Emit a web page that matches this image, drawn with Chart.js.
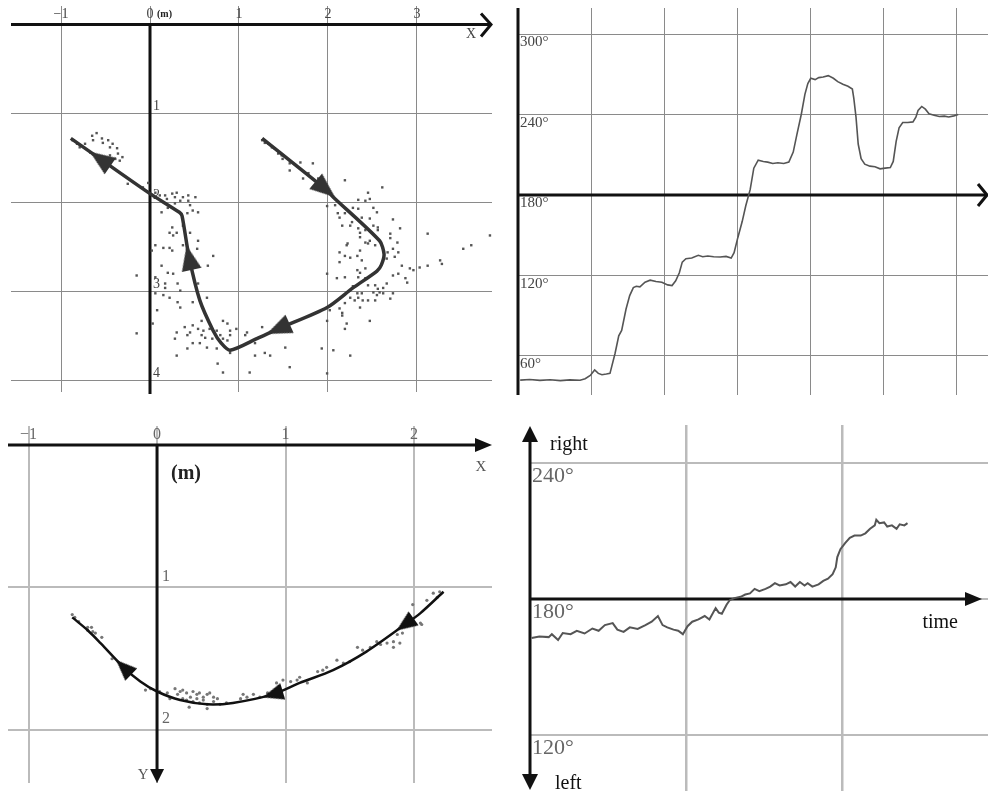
<!DOCTYPE html>
<html>
<head>
<meta charset="utf-8">
<script src="https://cdn.jsdelivr.net/npm/chart.js@4.4.0/dist/chart.umd.min.js"></script>
<style>
  body { margin: 0; background: #fff; width: 988px; height: 791px; position: relative; overflow: hidden; }
  canvas { position: absolute; }
</style>
</head>
<body>
<canvas id="pathA" width="500" height="400" style="left:0px;top:0px"></canvas>
<canvas id="headB" width="483" height="400" style="left:505px;top:0px"></canvas>
<canvas id="pathC" width="500" height="381" style="left:0px;top:410px"></canvas>
<canvas id="headD" width="483" height="381" style="left:505px;top:410px"></canvas>
<script>
// ---- top-left: walked path (m) ----
const xGridA = [-1, 0, 1, 2, 3];
const xLabelsA = ["\u22121", "0", "1", "2", "3"];
const yGridA = [1, 2, 3, 4];
const yLabelsA = ["1", "2", "3", "4"];
const pathA = [
  [1.26, 1.28], [1.97, 1.85], [2.06, 1.94], [2.58, 2.43], [2.63, 2.58], [2.60, 2.70],
  [2.55, 2.77], [2.28, 2.96], [1.99, 3.18], [1.44, 3.42], [1.20, 3.53], [0.90, 3.66],
  [0.80, 3.58], [0.71, 3.44], [0.56, 3.10], [0.44, 2.62], [0.36, 2.15], [0.33, 2.11],
  [0, 1.90], [-0.56, 1.51], [-0.89, 1.28],
];
const arrowIdxA = [1, 9, 15, 19];
const dotsA = [
  [-0.87,1.30],[-0.82,1.34],[-0.73,1.34],[-0.65,1.25],[-0.64,1.30],[-0.60,1.22],[-0.54,1.28],[-0.53,1.33],
  [-0.47,1.30],[-0.45,1.38],[-0.42,1.34],[-0.37,1.39],[-0.36,1.45],[-0.45,1.47],[-0.39,1.51],[-0.34,1.53],
  [-0.31,1.49],[-0.67,1.44],[-0.79,1.38],[-0.25,1.79],[-0.08,1.83],[-0.02,1.78],[0.06,1.89],[0.11,1.92],
  [0.17,1.92],[0.19,1.96],[0.25,1.90],[0.28,1.94],[0.30,1.89],[0.34,1.98],[0.37,1.94],[0.43,1.92],
  [0.43,1.98],[0.45,2.03],[0.51,1.94],[0.48,2.09],[0.54,2.11],[0.42,2.12],[0.13,2.11],[0.20,2.06],
  [0.28,2.01],[0.25,2.28],[0.30,2.34],[0.22,2.34],[0.26,2.37],[0.37,2.26],[0.45,2.34],[0.54,2.43],
  [0.53,2.52],[0.06,2.48],[0.15,2.51],[0.22,2.51],[0.25,2.54],[0.37,2.48],[0.02,2.54],[0.71,2.60],
  [0.65,2.71],[0.13,2.71],[0.20,2.79],[0.26,2.80],[-0.15,2.82],[0.06,2.84],[0.17,2.91],[0.17,2.96],
  [0.31,2.91],[0.54,2.91],[0.34,2.99],[0.06,3.02],[0.15,3.04],[0.22,3.07],[0.31,3.12],[0.64,3.07],
  [0.48,3.12],[0.34,3.18],[0.08,3.21],[0.03,3.36],[0.58,3.33],[0.82,3.33],[0.87,3.36],[0.39,3.40],
  [0.48,3.38],[0.54,3.42],[0.60,3.44],[0.67,3.42],[0.75,3.44],[0.90,3.44],[0.97,3.42],[0.30,3.46],
  [0.42,3.49],[0.45,3.46],[0.58,3.49],[0.62,3.52],[0.70,3.53],[0.79,3.49],[0.82,3.53],[0.87,3.55],
  [0.90,3.49],[1.09,3.46],[1.07,3.49],[0.28,3.53],[0.48,3.58],[0.56,3.58],[0.64,3.63],[0.42,3.64],
  [-0.15,3.47],[0.90,3.69],[0.75,3.64],[1.18,3.58],[0.30,3.72],[1.18,3.72],[1.29,3.69],[1.35,3.72],
  [1.52,3.63],[1.26,3.40],[0.76,3.81],[0.82,3.91],[1.12,3.91],[1.57,3.85],[1.99,3.92],[1.93,3.64],
  [2.06,3.66],[2.25,3.72],[1.26,1.30],[1.29,1.33],[1.33,1.34],[1.37,1.38],[1.40,1.39],[1.44,1.45],
  [1.48,1.47],[1.49,1.51],[1.57,1.56],[1.57,1.64],[1.69,1.55],[1.72,1.73],[1.83,1.56],[1.78,1.67],
  [1.89,1.73],[2.19,1.75],[2.61,1.83],[2.45,1.89],[2.47,1.96],[2.42,1.98],[2.34,1.97],[2.28,2.06],
  [2.34,2.07],[2.51,2.06],[2.55,2.11],[2.08,2.03],[1.99,2.04],[2.11,2.12],[2.13,2.17],[2.19,2.12],
  [2.27,2.22],[2.38,2.17],[2.47,2.18],[2.51,2.26],[2.56,2.28],[2.56,2.31],[2.73,2.19],[2.81,2.29],
  [2.16,2.26],[2.25,2.26],[2.34,2.29],[2.36,2.34],[2.42,2.31],[2.36,2.39],[2.42,2.45],[2.47,2.43],
  [2.45,2.46],[2.53,2.48],[2.70,2.35],[2.70,2.40],[2.78,2.45],[2.73,2.52],[2.79,2.56],[2.75,2.61],
  [2.67,2.56],[2.22,2.46],[2.21,2.48],[2.13,2.56],[2.19,2.60],[2.25,2.62],[2.33,2.60],[2.36,2.54],
  [2.13,2.67],[2.38,2.65],[2.42,2.74],[2.33,2.76],[2.36,2.79],[2.34,2.84],[2.66,2.63],[2.83,2.71],
  [2.92,2.74],[2.96,2.76],[3.03,2.73],[2.87,2.85],[2.89,2.90],[2.73,2.82],[2.79,2.80],[3.12,2.71],
  [3.12,2.35],[3.26,2.65],[3.28,2.69],[3.52,2.52],[3.61,2.48],[3.82,2.37],[1.99,2.80],[2.10,2.85],
  [2.19,2.84],[2.42,2.85],[2.45,2.93],[2.53,2.93],[2.56,2.97],[2.62,2.96],[2.66,2.91],[2.58,3.01],
  [2.51,3.01],[2.55,3.04],[2.62,3.02],[2.73,3.02],[2.28,2.94],[2.33,3.02],[2.34,3.07],[2.38,3.02],
  [2.25,3.07],[2.30,3.10],[2.39,3.10],[2.53,3.10],[2.45,3.10],[2.70,3.08],[2.36,3.18],[2.19,3.13],
  [2.02,3.21],[2.13,3.19],[2.16,3.24],[2.16,3.27],[1.99,3.33],[2.21,3.36],[2.47,3.33],[2.19,3.42],
];

// ---- top-right: heading angle over time ----
const tGridB = [1, 2, 3, 4, 5, 6];
const vGridB = [60, 120, 180, 240, 300];
const vLabelsB = ["60\u00b0", "120\u00b0", "180\u00b0", "240\u00b0", "300\u00b0"];
const timeB = [
  0.03, 0.16, 0.30, 0.44, 0.58, 0.71, 0.85, 0.92, 0.99, 1.05, 1.10, 1.15, 1.21, 1.26, 1.33, 1.38,
  1.42, 1.48, 1.53, 1.58, 1.62, 1.67, 1.74, 1.81, 1.89, 1.97, 2.05, 2.11, 2.16, 2.21, 2.25, 2.30,
  2.38, 2.47, 2.53, 2.60, 2.68, 2.77, 2.85, 2.92, 2.96, 3.01, 3.07, 3.12, 3.18, 3.23, 3.29, 3.36,
  3.42, 3.49, 3.56, 3.64, 3.71, 3.77, 3.82, 3.88, 3.93, 3.97, 4.01, 4.07, 4.12, 4.18, 4.25, 4.32,
  4.38, 4.45, 4.52, 4.58, 4.60, 4.63, 4.66, 4.70, 4.75, 4.82, 4.89, 4.96, 5.03, 5.10, 5.14, 5.18,
  5.22, 5.27, 5.34, 5.41, 5.45, 5.48, 5.53, 5.58, 5.63, 5.70, 5.77, 5.84, 5.90, 5.97, 6.03,
];
const angleB = [
  42, 42.5, 41.8, 42.3, 41.6, 42.2, 41.9, 43, 45.5, 49.6, 47, 46, 46.5, 47, 62, 75,
  79, 95, 105, 111, 112, 111.5, 115, 116.5, 115.5, 115, 113, 112.5, 116, 122, 130, 132.5,
  133, 135, 134, 134.5, 134, 133.8, 134.2, 133, 137, 148, 160, 172, 184, 200, 206, 205,
  204.5, 203.5, 204, 203.5, 204.5, 212, 225, 240, 255, 263, 267, 266, 267.5, 268, 269, 267,
  264.5, 262.5, 261, 259, 252, 238, 218, 207, 203, 201.5, 201, 199.5, 200, 200.5, 205, 220,
  230, 234, 234, 234.5, 238, 243, 246, 244, 240.5, 239.5, 238.5, 238.8, 238.2, 239, 240,
];

// ---- bottom-left: walked path (m) ----
const xGridC = [-1, 0, 1, 2];
const xLabelsC = ["\u22121", "0", "1", "2"];
const yGridC = [1, 2];
const yLabelsC = ["1", "2"];
const pathC = [
  [2.23, 1.03], [2.05, 1.18], [1.93, 1.26], [1.63, 1.45], [1.37, 1.58], [1.11, 1.67],
  [0.90, 1.75], [0.59, 1.81], [0.39, 1.82], [0.18, 1.79], [0, 1.73], [-0.13, 1.66],
  [-0.26, 1.56], [-0.44, 1.39], [-0.54, 1.30], [-0.66, 1.21],
];
const arrowIdxC = [2, 6, 12];
const dotsC = [
  [-0.66,1.19],[-0.64,1.21],[-0.61,1.24],[-0.54,1.28],[-0.51,1.28],[-0.50,1.31],[-0.43,1.35],[-0.48,1.32],
  [-0.54,1.30],[-0.09,1.72],[-0.05,1.71],[0.02,1.73],[0.08,1.74],[0.14,1.71],[0.16,1.75],[0.18,1.73],
  [0.20,1.72],[0.23,1.74],[0.26,1.77],[0.28,1.73],[0.31,1.75],[0.33,1.74],[0.36,1.77],[0.39,1.75],
  [0.41,1.74],[0.44,1.77],[0.47,1.78],[0.23,1.79],[0.28,1.80],[0.33,1.81],[0.39,1.82],[0.44,1.80],
  [0.36,1.79],[0.31,1.78],[0.20,1.78],[0.10,1.78],[0.49,1.82],[0.54,1.81],[0.65,1.78],[0.67,1.75],
  [0.70,1.77],[0.75,1.75],[0.80,1.77],[0.86,1.74],[0.93,1.67],[0.98,1.65],[1.04,1.66],[1.09,1.65],
  [1.17,1.67],[1.11,1.63],[1.25,1.59],[1.29,1.58],[1.32,1.56],[1.40,1.51],[1.45,1.53],[1.50,1.52],
  [1.56,1.42],[1.60,1.44],[1.66,1.42],[1.71,1.38],[1.74,1.40],[1.79,1.39],[1.84,1.38],[1.84,1.42],
  [1.89,1.39],[1.87,1.33],[1.91,1.32],[1.99,1.12],[2.05,1.25],[2.06,1.26],[1.99,1.23],[2.15,1.04],
  [2.20,1.03],[2.18,1.07],[2.10,1.09],[0.39,1.85],[0.25,1.84],[-0.23,1.60],[-0.35,1.50],
];

// ---- bottom-right: heading angle over time ----
const tGridD = [1, 2];
const vGridD = [120, 180, 240];
const vLabelsD = ["120\u00b0", "180\u00b0", "240\u00b0"];
const timeD = [
  0.01, 0.06, 0.12, 0.14, 0.18, 0.21, 0.26, 0.30, 0.35, 0.40, 0.44, 0.48, 0.53, 0.56, 0.60, 0.64,
  0.69, 0.74, 0.78, 0.82, 0.85, 0.88, 0.92, 0.95, 0.98, 1.01, 1.04, 1.08, 1.12, 1.15, 1.19, 1.21,
  1.23, 1.26, 1.28, 1.31, 1.35, 1.38, 1.41, 1.44, 1.47, 1.51, 1.54, 1.57, 1.60, 1.64, 1.67, 1.70,
  1.73, 1.76, 1.78, 1.81, 1.85, 1.88, 1.91, 1.94, 1.96, 1.97, 1.99, 2.02, 2.05, 2.08, 2.12, 2.15,
  2.18, 2.21, 2.22, 2.24, 2.27, 2.29, 2.32, 2.35, 2.37, 2.40, 2.42,
];
const angleD = [
  162.8, 163.5, 163.2, 164.5, 161.9, 165, 164.5, 166, 164.8, 167, 166, 168.5, 169.4, 166.5, 165.5, 167.5,
  166.8, 168.5, 170, 172.5, 168.5, 167.5, 166.5, 166, 164.5, 168, 170, 171, 172.5, 171, 176, 174,
  173.5, 177.5, 179.5, 180.4, 181, 182, 182.5, 184.5, 183.5, 184.5, 185.5, 187, 186, 186.5, 187.5, 185.5,
  187.5, 186, 187, 185.5, 186.5, 188, 189, 191, 194, 198.5, 202, 204.7, 207, 208, 208, 209,
  211, 212.5, 215, 213.5, 213.8, 212, 212.5, 211, 213, 212.5, 213.5,
];

const SERIF = '"Liberation Serif", "DejaVu Serif", serif';
const pts = (arr) => arr.map((p) => ({ x: p[0], y: p[1] }));
const zip = (xs, ys) => xs.map((x, i) => ({ x: x, y: ys[i] }));

// arrowhead sprite, tip pointing up; chart rotates it
function arrowHead(w, h, color) {
  const c = document.createElement("canvas");
  c.width = w;
  c.height = h;
  const g = c.getContext("2d");
  g.fillStyle = color;
  g.beginPath();
  g.moveTo(w / 2, 0);
  g.lineTo(w, h);
  g.lineTo(0, h);
  g.closePath();
  g.fill();
  return c;
}

// arrow heading follows the path through the neighbouring points
function heading(path, idx) {
  return function (c) {
    const sx = c.chart.scales.x, sy = c.chart.scales.y;
    const i = idx[c.dataIndex];
    const a = path[i - 1], b = path[i + 1];
    const dx = sx.getPixelForValue(b[0]) - sx.getPixelForValue(a[0]);
    const dy = sy.getPixelForValue(b[1]) - sy.getPixelForValue(a[1]);
    return (Math.atan2(dx, -dy) * 180) / Math.PI;
  };
}

function label(ctx, str, x, y, font, color, align, base) {
  ctx.save();
  ctx.font = font;
  ctx.fillStyle = color;
  ctx.textAlign = align || "center";
  ctx.textBaseline = base || "middle";
  ctx.fillText(str, x, y);
  ctx.restore();
}
function stroke(ctx, list, width, color) {
  ctx.save();
  ctx.lineWidth = width;
  ctx.strokeStyle = color;
  ctx.beginPath();
  list.forEach((p, i) => (i ? ctx.lineTo(p[0], p[1]) : ctx.moveTo(p[0], p[1])));
  ctx.stroke();
  ctx.restore();
}
function fill(ctx, list, color) {
  ctx.save();
  ctx.fillStyle = color;
  ctx.beginPath();
  list.forEach((p, i) => (i ? ctx.lineTo(p[0], p[1]) : ctx.moveTo(p[0], p[1])));
  ctx.closePath();
  ctx.fill();
  ctx.restore();
}

function axis(min, max, grid, color, width, reverse) {
  return {
    type: "linear",
    min: min,
    max: max,
    reverse: !!reverse,
    afterBuildTicks: (s) => { s.ticks = grid.map((v) => ({ value: v })); },
    ticks: { display: false },
    grid: { color: color, lineWidth: width, drawTicks: false },
    border: { display: false },
  };
}

function makeChart(id, datasets, x, y, padding, decor) {
  return new Chart(document.getElementById(id), {
    type: "scatter",
    data: { datasets: datasets },
    options: {
      responsive: false,
      animation: false,
      layout: { padding: padding },
      plugins: { legend: { display: false }, tooltip: { enabled: false } },
      scales: { x: x, y: y },
    },
    plugins: [{ id: "decor", beforeDatasetsDraw: decor }],
  });
}

// top-left
makeChart(
  "pathA",
  [
    {
      data: arrowIdxA.map((i) => ({ x: pathA[i][0], y: pathA[i][1] })),
      pointStyle: arrowHead(20, 25, "#333"), rotation: heading(pathA, arrowIdxA),
    },
    {
      data: pts(pathA), showLine: true, tension: 0.25, pointRadius: 0,
      borderColor: "#333", borderWidth: 3.5,
    },
    {
      data: pts(dotsA), pointStyle: "rect", pointRadius: 1.7,
      backgroundColor: "#555", borderWidth: 0,
    },
  ],
  axis(-1.562, 3.843, xGridA, "#8a8a8a", 1),
  axis(-0.208, 4.129, yGridA, "#8a8a8a", 1, true),
  { left: 11, top: 6, right: 8, bottom: 8 },
  function (chart) {
    const ctx = chart.ctx, a = chart.chartArea, sx = chart.scales.x, sy = chart.scales.y;
    const ox = sx.getPixelForValue(0), oy = sy.getPixelForValue(0);
    stroke(ctx, [[a.left, oy], [a.right - 1, oy]], 3, "#111");
    stroke(ctx, [[ox, oy], [ox, a.bottom + 2]], 3, "#111");
    stroke(ctx, [[a.right - 11, oy - 11], [a.right - 1, oy], [a.right - 11, oy + 12]], 3, "#111");
    xGridA.forEach((v, i) =>
      label(ctx, xLabelsA[i], sx.getPixelForValue(v), oy - 3, "14px " + SERIF, "#444", "center", "bottom"));
    label(ctx, "(m)", ox + 7, oy - 10, "bold 10px " + SERIF, "#222", "left", "middle");
    yGridA.forEach((v, i) =>
      label(ctx, yLabelsA[i], ox + 3, sy.getPixelForValue(v) - 7, "14px " + SERIF, "#444", "left", "middle"));
    label(ctx, "X", a.right - 21, oy + 10, "14px " + SERIF, "#444", "center", "middle");
  }
);

// top-right
makeChart(
  "headB",
  [
    {
      data: zip(timeB, angleB), showLine: true, tension: 0, pointRadius: 0,
      borderColor: "#555", borderWidth: 1.6,
    },
  ],
  axis(0, 6.438, tGridB, "#8a8a8a", 1),
  axis(30.9, 319.4, vGridB, "#8a8a8a", 1),
  { left: 13, top: 8, right: 0, bottom: 5 },
  function (chart) {
    const ctx = chart.ctx, a = chart.chartArea, sx = chart.scales.x, sy = chart.scales.y;
    const ox = sx.getPixelForValue(0), oy = sy.getPixelForValue(180);
    stroke(ctx, [[ox, a.top], [ox, a.bottom]], 3, "#111");
    stroke(ctx, [[ox, oy], [a.right - 1, oy]], 3, "#111");
    stroke(ctx, [[a.right - 10, oy - 11], [a.right - 1, oy], [a.right - 10, oy + 11]], 3, "#111");
    vGridB.forEach((v, i) =>
      label(ctx, vLabelsB[i], ox + 2, sy.getPixelForValue(v) + 1, "15px " + SERIF, "#444", "left", "top"));
  }
);

// bottom-left
makeChart(
  "pathC",
  [
    {
      data: arrowIdxC.map((i) => ({ x: pathC[i][0], y: pathC[i][1] })),
      pointStyle: arrowHead(17, 21, "#111"), rotation: heading(pathC, arrowIdxC),
    },
    {
      data: pts(pathC), showLine: true, tension: 0.3, pointRadius: 0,
      borderColor: "#111", borderWidth: 2.5,
    },
    {
      data: pts(dotsC), pointRadius: 1.6, backgroundColor: "#777", borderWidth: 0,
    },
  ],
  axis(-1.16, 2.607, xGridC, "#bbbbbb", 2),
  axis(-0.133, 2.372, yGridC, "#bbbbbb", 2, true),
  { left: 8, top: 16, right: 8, bottom: 8 },
  function (chart) {
    const ctx = chart.ctx, a = chart.chartArea, sx = chart.scales.x, sy = chart.scales.y;
    const ox = sx.getPixelForValue(0), oy = sy.getPixelForValue(0);
    stroke(ctx, [[a.left, oy], [a.right - 14, oy]], 3, "#111");
    fill(ctx, [[a.right, oy], [a.right - 17, oy - 7], [a.right - 17, oy + 7]], "#111");
    stroke(ctx, [[ox, oy], [ox, a.bottom - 12]], 3, "#111");
    fill(ctx, [[ox, a.bottom], [ox - 7, a.bottom - 14], [ox + 7, a.bottom - 14]], "#111");
    xGridC.forEach((v, i) =>
      label(ctx, xLabelsC[i], sx.getPixelForValue(v), oy - 2, "16px " + SERIF, "#666", "center", "bottom"));
    yGridC.forEach((v, i) =>
      label(ctx, yLabelsC[i], ox + 5, sy.getPixelForValue(v) - 11, "16px " + SERIF, "#666", "left", "middle"));
    label(ctx, "(m)", ox + 14, oy + 29, "bold 20px " + SERIF, "#222", "left", "middle");
    label(ctx, "X", a.right - 11, oy + 22, "15px " + SERIF, "#555", "center", "middle");
    label(ctx, "Y", ox - 14, a.bottom - 8, "15px " + SERIF, "#555", "center", "middle");
  }
);

// bottom-right
makeChart(
  "headD",
  [
    {
      data: zip(timeD, angleD), showLine: true, tension: 0, pointRadius: 0,
      borderColor: "#555", borderWidth: 2,
    },
  ],
  axis(0, 2.936, tGridD, "#bbbbbb", 2.5),
  axis(95.3, 256.8, vGridD, "#bbbbbb", 2),
  { left: 25, top: 15, right: 0, bottom: 0 },
  function (chart) {
    const ctx = chart.ctx, a = chart.chartArea, sx = chart.scales.x, sy = chart.scales.y;
    const ox = sx.getPixelForValue(0), oy = sy.getPixelForValue(180);
    stroke(ctx, [[ox, a.top + 14], [ox, a.bottom - 14]], 3, "#111");
    fill(ctx, [[ox, a.top + 1], [ox - 8, a.top + 17], [ox + 8, a.top + 17]], "#111");
    fill(ctx, [[ox, a.bottom - 1], [ox - 8, a.bottom - 17], [ox + 8, a.bottom - 17]], "#111");
    stroke(ctx, [[ox, oy], [a.right - 20, oy]], 3, "#111");
    fill(ctx, [[a.right - 6, oy], [a.right - 23, oy - 7], [a.right - 23, oy + 7]], "#111");
    vGridD.forEach((v, i) =>
      label(ctx, vLabelsD[i], ox + 2, sy.getPixelForValue(v) + 2, "22px " + SERIF, "#666", "left", "top"));
    label(ctx, "right", ox + 20, sy.getPixelForValue(240) - 13, "20px " + SERIF, "#111", "left", "alphabetic");
    label(ctx, "left", ox + 25, a.bottom - 2, "20px " + SERIF, "#111", "left", "alphabetic");
    label(ctx, "time", a.right - 30, oy + 29, "20px " + SERIF, "#111", "right", "alphabetic");
  }
);
</script>
</body>
</html>
